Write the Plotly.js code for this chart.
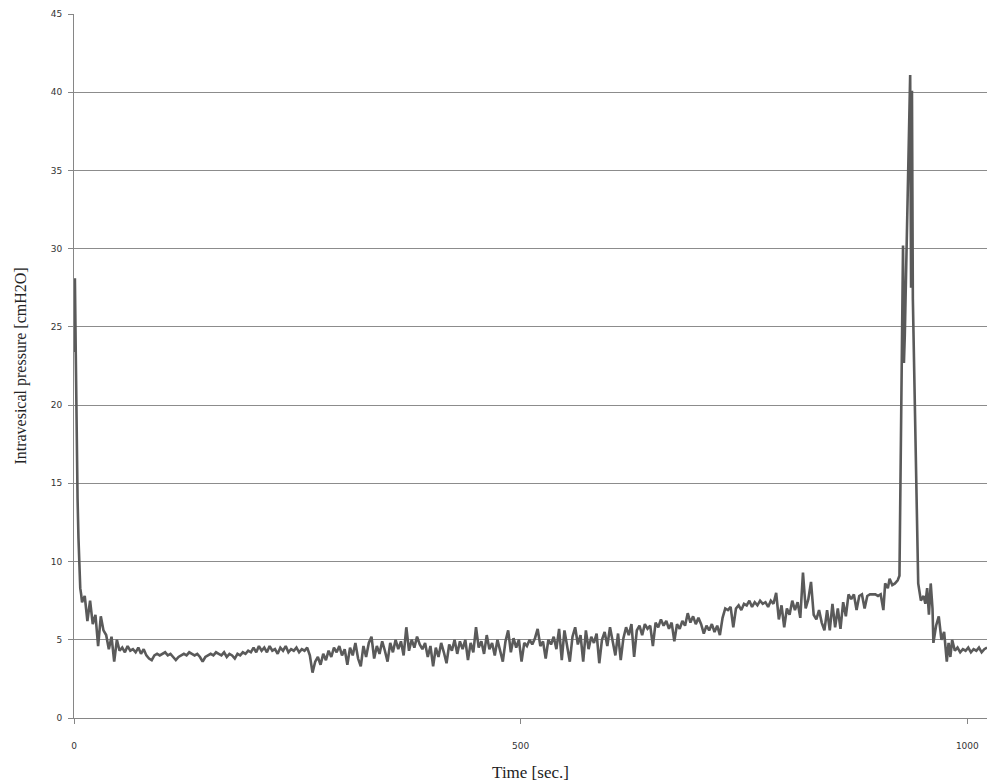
<!DOCTYPE html>
<html>
<head>
<meta charset="utf-8">
<script src="https://cdn.plot.ly/plotly-3.0.1.min.js"></script>
<style>html,body{margin:0;padding:0;background:#fff;}#chart{width:987px;height:784px;}</style>
</head>
<body>
<div id="chart"></div>
<script>
var timeSec = [
  0,1,2,3,4,5,6,7,8,
  9,12,15,18,21,24,27,30,33,36,
  39,42,45,48,51,54,57,60,63,66,
  69,72,75,78,81,84,87,90,93,96,
  99,102,105,108,111,114,117,120,123,126,
  129,132,135,138,141,144,147,150,153,156,
  159,162,165,168,171,174,177,180,183,186,
  189,192,195,198,201,204,207,210,213,216,
  219,222,225,228,231,234,237,240,243,246,
  249,252,255,258,261,264,267,270,273,276,
  279,282,285,288,291,294,297,300,303,306,
  309,312,315,318,321,324,327,330,333,336,
  339,342,345,348,351,354,357,360,363,366,
  369,372,375,378,381,384,387,390,393,396,
  399,402,405,408,411,414,417,420,423,426,
  429,432,435,438,441,444,447,450,453,456,
  459,462,465,468,471,474,477,480,483,486,
  489,492,495,498,501,504,507,510,513,516,
  519,522,525,528,531,534,537,540,543,546,
  549,552,555,558,561,564,567,570,573,576,
  579,582,585,588,591,594,597,600,603,606,
  609,612,615,618,621,624,627,630,633,636,
  639,642,645,648,651,654,657,660,663,666,
  669,672,675,678,681,684,687,690,693,696,
  699,702,705,708,711,714,717,720,723,726,
  729,732,735,738,741,744,747,750,753,756,
  759,762,765,768,771,774,777,780,783,786,
  789,792,795,798,801,804,807,810,813,816,
  819,822,825,828,831,834,837,840,843,846,
  849,852,855,858,861,864,867,870,873,876,
  879,882,885,888,891,894,897,900,903,906,
  908,911,913,916,919,922,924,928,929,930,
  936,937,938,939,945,948,951,953,955,957,
  959,961,962,965,968,971,974,977,979,981,
  983,986,989,992,995,998,1001,1004,1007,1010,
  1013,1016,1019,1022
];
var pressure = [
  23.4,28.1,23.2,17,14,11.5,9.8,8.3,7.9,
  7.4,7.8,6.2,7.5,6.0,6.6,4.6,6.5,5.6,5.3,
  4.4,5.2,3.6,5.0,4.3,4.5,4.2,4.6,4.3,4.4,
  4.2,4.5,4.1,4.4,4.0,3.8,3.7,4.0,4.1,4.0,
  4.1,4.2,4.0,4.1,3.9,3.7,3.9,4.0,4.1,4.0,
  4.2,4.1,4.0,4.1,3.9,3.6,3.9,4.0,4.1,4.0,
  4.2,4.1,4.0,4.2,3.9,4.1,4.0,3.8,4.1,4.0,
  4.2,4.1,4.3,4.2,4.5,4.2,4.6,4.3,4.5,4.2,
  4.6,4.3,4.4,4.1,4.5,4.3,4.6,4.2,4.4,4.3,
  4.5,4.2,4.4,4.3,4.5,4.0,2.9,3.6,3.9,3.4,
  4.1,3.7,4.3,3.9,4.5,4.2,4.6,4.0,4.4,3.4,
  4.5,4.0,4.8,3.8,3.3,4.6,3.9,4.8,5.2,3.8,
  4.6,4.1,4.9,4.3,3.6,4.8,4.2,5.0,4.4,4.9,
  4.0,5.8,4.3,5.0,4.5,5.2,4.7,4.4,4.8,3.9,
  4.6,3.3,4.5,3.9,4.8,4.2,3.5,4.7,4.3,5.0,
  4.1,4.9,4.4,5.0,3.7,4.8,4.2,5.8,4.5,4.9,
  4.1,5.3,4.4,4.8,4.0,5.0,4.3,3.6,4.9,5.6,
  4.2,5.1,4.5,5.0,3.6,4.8,4.6,5.0,4.7,5.1,
  5.7,4.6,4.9,3.8,5.0,4.7,5.2,4.4,5.7,3.7,
  5.6,4.5,3.6,5.2,5.8,4.7,5.3,3.6,5.6,4.4,
  5.2,4.8,5.4,3.5,5.0,5.5,4.6,5.8,4.9,4.0,
  5.4,3.7,5.1,5.8,5.3,6.0,3.9,5.6,5.9,5.3,
  6.0,5.7,5.9,4.6,6.1,5.8,6.3,5.9,6.2,5.7,
  6.1,4.9,6.0,5.7,6.2,5.9,6.7,6.1,6.5,6.0,
  6.4,6.0,5.4,5.9,5.6,6.0,5.5,5.9,5.3,6.4,
  7.0,6.9,7.1,5.8,7.0,7.2,6.9,7.3,7.2,7.5,
  7.1,7.4,7.2,7.5,7.3,7.4,7.1,7.5,7.3,8.0,
  6.3,7.2,5.8,7.0,6.6,7.5,6.9,7.4,6.4,9.3,
  7.0,7.6,8.7,6.6,6.3,6.9,6.1,5.6,6.9,5.6,
  7.3,5.8,7.0,5.7,7.4,6.5,7.9,7.6,7.9,6.9,
  7.8,7.9,7.0,7.8,7.9,7.9,7.9,7.8,7.9,6.9,
  8.6,8.3,8.9,8.5,8.6,8.8,9.1,30.2,22.7,24.5,
  41.1,27.5,40.1,26.8,8.6,7.5,7.8,7.3,8.3,6.6,
  8.6,7.0,4.8,5.9,6.5,5.0,5.5,3.6,4.8,3.9,
  5.0,4.3,4.5,4.2,4.4,4.3,4.5,4.2,4.4,4.3,
  4.5,4.2,4.4,4.5
];
var xTicks = [0, 500, 1000];
var yTicks = [0, 5, 10, 15, 20, 25, 30, 35, 40, 45];

var trace = {
  x: timeSec,
  y: pressure,
  type: 'scatter',
  mode: 'lines',
  line: {color: '#5a5a5a', width: 2.6},
  hoverinfo: 'x+y'
};

var layout = {
  width: 987,
  height: 784,
  margin: {l: 74, r: 0, t: 14, b: 66},
  paper_bgcolor: '#ffffff',
  plot_bgcolor: '#ffffff',
  showlegend: false,
  xaxis: {
    range: [0, 1022],
    tickmode: 'array',
    tickvals: xTicks,
    ticktext: xTicks.map(String),
    ticks: 'outside',
    ticklen: 5,
    tickcolor: '#868686',
    showgrid: false,
    zeroline: false,
    showline: true,
    linecolor: '#868686',
    linewidth: 1,
    ticklabelstandoff: 14,
    tickfont: {family: 'DejaVu Sans', size: 9, color: '#333333'},
    automargin: false,
    title: {text: 'Time [sec.]', font: {family: 'Liberation Serif', size: 17, color: '#222222'}, standoff: 16}
  },
  yaxis: {
    range: [0, 45],
    tickmode: 'array',
    tickvals: yTicks,
    ticktext: yTicks.map(String),
    ticks: 'outside',
    ticklen: 5,
    tickcolor: '#868686',
    showgrid: true,
    gridcolor: '#8c8c8c',
    gridwidth: 1,
    zeroline: false,
    showline: true,
    linecolor: '#868686',
    linewidth: 1,
    ticklabelstandoff: 4,
    tickfont: {family: 'DejaVu Sans', size: 9, color: '#333333'},
    automargin: false,
    title: {text: 'Intravesical pressure [cmH2O]', font: {family: 'Liberation Serif', size: 16, color: '#222222'}, standoff: 20}
  }
};

Plotly.newPlot('chart', [trace], layout, {displayModeBar: false, staticPlot: true});
</script>
</body>
</html>
